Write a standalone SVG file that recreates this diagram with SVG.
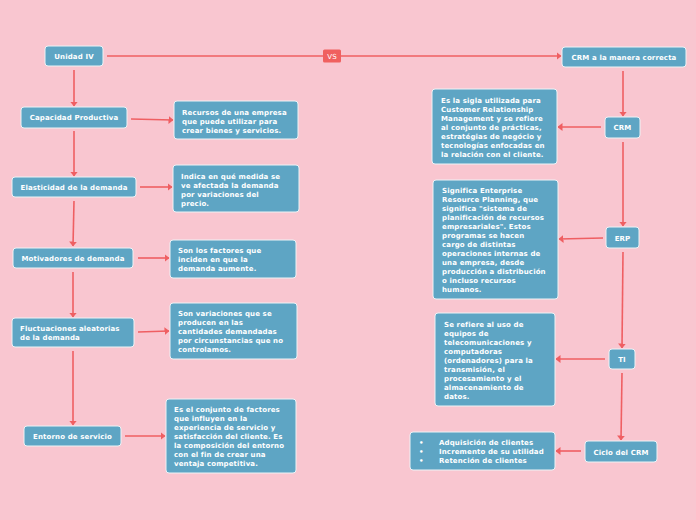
<svg xmlns="http://www.w3.org/2000/svg" width="696" height="520" viewBox="0 0 696 520">
<style>
.n{fill:#5ea5c4;stroke:#eef3f6;stroke-width:1}
.t{font-family:"DejaVu Sans",Verdana,sans-serif;font-weight:bold;font-size:7px;fill:#ffffff;letter-spacing:0.13px}
.c{text-anchor:middle}
.l{stroke:#ef5f62;stroke-width:1.6;fill:none}
</style>
<defs>
<marker id="a" viewBox="0 0 5 8" refX="4.5" refY="4" markerWidth="5" markerHeight="8" markerUnits="userSpaceOnUse" orient="auto">
<path d="M0,0 L5,4 L0,8 Z" fill="#ef5f62"/>
</marker>
</defs>
<rect width="696" height="520" fill="#f9c6d0"/>
<g id="connectors">
<path class="l" d="M107,56 L561,56" marker-end="url(#a)"/>
<path class="l" d="M74,70 L74,106" marker-end="url(#a)"/>
<path class="l" d="M74,131 L74,176" marker-end="url(#a)"/>
<path class="l" d="M74,201 L73,246" marker-end="url(#a)"/>
<path class="l" d="M73,272 L73,317" marker-end="url(#a)"/>
<path class="l" d="M73,351 L73,425" marker-end="url(#a)"/>
<path class="l" d="M131,119 L173,120" marker-end="url(#a)"/>
<path class="l" d="M140,187 L172,187" marker-end="url(#a)"/>
<path class="l" d="M138,258 L169,258" marker-end="url(#a)"/>
<path class="l" d="M138,332 L169,331" marker-end="url(#a)"/>
<path class="l" d="M125,436 L165,436" marker-end="url(#a)"/>
<path class="l" d="M623,71 L623,116" marker-end="url(#a)"/>
<path class="l" d="M623,142 L623,226" marker-end="url(#a)"/>
<path class="l" d="M623,252 L622,348" marker-end="url(#a)"/>
<path class="l" d="M622,373 L621,440" marker-end="url(#a)"/>
<path class="l" d="M601,127 L558,127" marker-end="url(#a)"/>
<path class="l" d="M603,238 L559,239" marker-end="url(#a)"/>
<path class="l" d="M605,359 L556,359" marker-end="url(#a)"/>
<path class="l" d="M581,451 L556,451" marker-end="url(#a)"/>
<g id="vs"><rect x="323" y="49.5" width="18" height="13" rx="1.5" fill="#f0605f"/><text class="t c" x="332" y="58.5" style="font-weight:normal">VS</text></g>
</g>
<g id="unidad"><rect class="n" x="45" y="46" width="58" height="20" rx="3"/><text class="t c" x="74" y="59">Unidad IV</text></g>
<g id="crmcorrecta"><rect class="n" x="562" y="47" width="124" height="20" rx="3"/><text class="t c" x="624" y="60">CRM a la manera correcta</text></g>
<g id="capacidad"><rect class="n" x="21" y="107" width="106" height="21" rx="3"/><text class="t c" x="74" y="120">Capacidad Productiva</text></g>
<g id="recursos"><rect class="n" x="174" y="101" width="124" height="38" rx="3"/><text class="t" x="182" y="114.5">Recursos de una empresa<tspan x="182" dy="9">que puede utilizar para</tspan><tspan x="182" dy="9">crear bienes y servicios.</tspan></text></g>
<g id="elasticidad"><rect class="n" x="12" y="177" width="124" height="20" rx="3"/><text class="t c" x="74" y="190">Elasticidad de la demanda</text></g>
<g id="indica"><rect class="n" x="173" y="165" width="126" height="47" rx="3"/><text class="t" x="181" y="178.5">Indica en qué medida se<tspan x="181" dy="9">ve afectada la demanda</tspan><tspan x="181" dy="9">por variaciones del</tspan><tspan x="181" dy="9">precio.</tspan></text></g>
<g id="motivadores"><rect class="n" x="13" y="248" width="120" height="20" rx="3"/><text class="t c" x="73" y="261">Motivadores de demanda</text></g>
<g id="sonlos"><rect class="n" x="170" y="240" width="126" height="38" rx="3"/><text class="t" x="178" y="252.5">Son los factores que<tspan x="178" dy="9">inciden en que la</tspan><tspan x="178" dy="9">demanda aumente.</tspan></text></g>
<g id="fluctuaciones"><rect class="n" x="12" y="318" width="122" height="29" rx="3"/><text class="t" x="20" y="330.5">Fluctuaciones aleatorias<tspan x="20" dy="9">de la demanda</tspan></text></g>
<g id="variaciones"><rect class="n" x="170" y="303" width="127" height="56" rx="3"/><text class="t" x="178" y="315.5">Son variaciones que se<tspan x="178" dy="9">producen en las</tspan><tspan x="178" dy="9">cantidades demandadas</tspan><tspan x="178" dy="9">por circunstancias que no</tspan><tspan x="178" dy="9">controlamos.</tspan></text></g>
<g id="entorno"><rect class="n" x="24" y="426" width="97" height="20" rx="3"/><text class="t c" x="72.5" y="439">Entorno de servicio</text></g>
<g id="conjunto"><rect class="n" x="166" y="399" width="130" height="74" rx="3"/><text class="t" x="174" y="411.5">Es el conjunto de factores<tspan x="174" dy="9">que influyen en la</tspan><tspan x="174" dy="9">experiencia de servicio y</tspan><tspan x="174" dy="9">satisfacción del cliente. Es</tspan><tspan x="174" dy="9">la composición del entorno</tspan><tspan x="174" dy="9">con el fin de crear una</tspan><tspan x="174" dy="9">ventaja competitiva.</tspan></text></g>
<g id="crm"><rect class="n" x="605" y="117" width="35" height="21" rx="3"/><text class="t c" x="622.5" y="130">CRM</text></g>
<g id="sigla"><rect class="n" x="432" y="89" width="125" height="75" rx="3"/><text class="t" x="441" y="102.5">Es la sigla utilizada para<tspan x="441" dy="9">Customer Relationship</tspan><tspan x="441" dy="9">Management y se refiere</tspan><tspan x="441" dy="9">al conjunto de prácticas,</tspan><tspan x="441" dy="9">estratégias de negócio y</tspan><tspan x="441" dy="9">tecnologías enfocadas en</tspan><tspan x="441" dy="9">la relación con el cliente.</tspan></text></g>
<g id="erp"><rect class="n" x="606" y="227" width="33" height="21" rx="3"/><text class="t c" x="622.5" y="240.5">ERP</text></g>
<g id="significa"><rect class="n" x="433" y="180" width="125" height="119" rx="3"/><text class="t" x="442" y="192.5">Significa Enterprise<tspan x="442" dy="9">Resource Planning, que</tspan><tspan x="442" dy="9">significa "sistema de</tspan><tspan x="442" dy="9">planificación de recursos</tspan><tspan x="442" dy="9">empresariales". Estos</tspan><tspan x="442" dy="9">programas se hacen</tspan><tspan x="442" dy="9">cargo de distintas</tspan><tspan x="442" dy="9">operaciones internas de</tspan><tspan x="442" dy="9">una empresa, desde</tspan><tspan x="442" dy="9">producción a distribución</tspan><tspan x="442" dy="9">o incluso recursos</tspan><tspan x="442" dy="9">humanos.</tspan></text></g>
<g id="ti"><rect class="n" x="609" y="349" width="26" height="20" rx="3"/><text class="t c" x="622" y="362">TI</text></g>
<g id="serefiere"><rect class="n" x="435" y="313" width="120" height="93" rx="3"/><text class="t" x="444" y="326.5">Se refiere al uso de<tspan x="444" dy="9">equipos de</tspan><tspan x="444" dy="9">telecomunicaciones y</tspan><tspan x="444" dy="9">computadoras</tspan><tspan x="444" dy="9">(ordenadores) para la</tspan><tspan x="444" dy="9">transmisión, el</tspan><tspan x="444" dy="9">procesamiento y el</tspan><tspan x="444" dy="9">almacenamiento de</tspan><tspan x="444" dy="9">datos.</tspan></text></g>
<g id="ciclo"><rect class="n" x="585" y="441" width="72" height="21" rx="3"/><text class="t c" x="621" y="454.5">Ciclo del CRM</text></g>
<g id="bullets"><rect class="n" x="410" y="432" width="145" height="38" rx="3"/><text class="t" x="419" y="444.5">•<tspan x="419" dy="9">•</tspan><tspan x="419" dy="9">•</tspan></text><text class="t" x="439" y="444.5">Adquisición de clientes<tspan x="439" dy="9">Incremento de su utilidad</tspan><tspan x="439" dy="9">Retención de clientes</tspan></text></g>
</svg>
